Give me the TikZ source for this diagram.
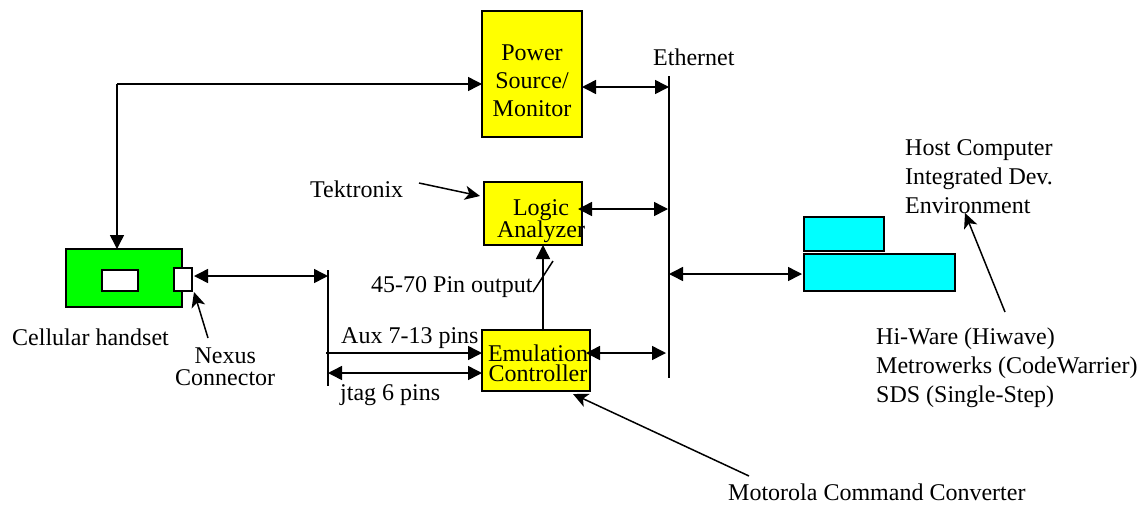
\documentclass[tikz,border=0pt]{standalone}
\usepackage{fontspec}
\setmainfont{Liberation Serif}
\usetikzlibrary{%
  arrows.meta,%
  positioning}
\definecolor{boxyellow}{RGB}{255,255,0}
\definecolor{boxgreen}{RGB}{0,255,0}
\definecolor{boxcyan}{RGB}{0,255,255}

\begin{document}
\begin{tikzpicture}
  [x=1pt,y=-1pt,on grid,
   box/.style={rectangle,draw=black,line width=2pt,inner sep=0pt,outer sep=0pt},
   yellow box/.style={box,fill=boxyellow},
   green box/.style={box,fill=boxgreen},
   cyan box/.style={box,fill=boxcyan},
   white box/.style={box,fill=white},
   caption/.style={inner sep=0pt,anchor=base west,align=left,font=\fontsize{24}{29}\selectfont},
   tight/.style={font=\fontsize{24}{22}\selectfont},
   every label/.style={inner sep=0pt,align=center,font=\fontsize{24}{22}\selectfont},
   bus/.style={line width=2pt},
   link/.style={line width=1.5pt,-{Triangle[length=14pt,width=14pt]}},
   both/.style={line width=1.5pt,{Triangle[length=14pt,width=14pt]}-{Triangle[length=14pt,width=14pt]}},
   leader/.style={line width=1.5pt,-{Stealth[length=15pt,width=14pt,inset=4pt]}}]

  \useasboundingbox (0,0) rectangle (1142,504);

  % Instruments
  \node [yellow box,minimum width=100pt,minimum height=126pt,
         label={[yshift=-7pt,font=\fontsize{24}{28}\selectfont]center:Power\\Source/\\Monitor}]
                        (power)                             at (532,74)    {};
  \node [yellow box,minimum width=98pt,minimum height=63pt,
         label={[xshift=8pt,yshift=-8pt]center:Logic\\Analyzer}]
                        (logic) [below=139.5pt of power,xshift=1pt]        {};
  \node [yellow box,minimum width=108pt,minimum height=61pt,
         label={[xshift=2pt,yshift=-3pt,font=\fontsize{24}{20}\selectfont]center:Emulation\\Controller}]
                        (emu)   [below=147pt of logic,xshift=3pt]          {};

  % Handset
  \node [green box,minimum width=116pt,minimum height=58pt]
                        (handset)                           at (124,278)   {};
  \node [white box,minimum width=36pt,minimum height=21pt]
                        (screen)                            at (120,280.5) {};
  \node [white box,minimum width=18pt,minimum height=23pt]
                        (plug)                              at (183,279.5) {};

  % Host computer
  \node [cyan box,minimum width=80pt,minimum height=34pt]
                        (monitor)                           at (844,234)   {};
  \node [cyan box,minimum width=151pt,minimum height=37pt]
                        (host)                              at (879.5,272.5) {};

  % Captions
  \node [caption] (ethernet)  at (653,65)  {Ethernet};
  \node [caption] (tektronix) at (310,197) {Tektronix};
  \node [caption] (cellular)  at (12,345)  {Cellular handset};
  \node [caption,tight,align=center] (nexus) at (175,385) {Nexus\\Connector};
  \node [caption] (pinout)    at (371,292) {45-70 Pin output};
  \node [caption] (aux)       at (341,343) {Aux 7-13 pins};
  \node [caption] (jtag)      at (340,400) {jtag 6 pins};
  \node [caption] (motorola)  at (728,500) {Motorola Command Converter};
  \node [caption] (ide)       at (905,213) {Host Computer\\Integrated Dev.\\Environment};
  \node [caption] (tools)     at (876,402) {Hi-Ware (Hiwave)\\Metrowerks (CodeWarrier)\\SDS (Single-Step)};

  % Free ends
  \coordinate (ether top) at (669,76);
  \coordinate (ether bot) at (669,378);
  \coordinate (trace top) at (328,270);
  \coordinate (trace bot) at (328,386);
  \coordinate (corner)    at (117,84);
  \coordinate (tap1)      at (669,87);
  \coordinate (tap2)      at (668,209);
  \coordinate (tap3)      at (666,353);
  \coordinate (tap4)      at (669,274);
  \coordinate (trace1)    at (328,276);
  \coordinate (aux in)    at (326,353);
  \coordinate (jtag in)   at (328,373);
  \coordinate (pin out)   at (543,331);
  \coordinate (tick a)    at (533,292);
  \coordinate (tick b)    at (553,261);
  \coordinate (tek from)  at (419,183);
  \coordinate (tek to)    at (480,196);
  \coordinate (mot from)  at (749,476);
  \coordinate (mot to)    at (573,394);
  \coordinate (nex from)  at (208,338);
  \coordinate (nex to)    at (194,292);
  \coordinate (hi from)   at (1005,312);
  \coordinate (hi to)     at (965,213);

  % Connectors
  \draw [bus] (ether top) -- (ether bot);
  \draw [bus] (trace top) -- (trace bot);
  \draw [link] (corner) -- (corner -| power.west);
  \draw [link] (corner) -- (corner |- handset.north);
  \draw [both] (power.east |- tap1) -- (tap1);
  \draw [both] ([xshift=-4pt]logic.east |- tap2) -- (tap2);
  \draw [both] ([xshift=-4pt]emu.east |- tap3) -- (tap3);
  \draw [both] (tap4) -- ([xshift=-2pt]host.west |- tap4);
  \draw [both] ([xshift=2pt]plug.east |- trace1) -- (trace1);
  \draw [link] (aux in) -- (emu.west |- aux in);
  \draw [both] (jtag in) -- (emu.west |- jtag in);
  \draw [link] (pin out) -- (pin out |- logic.south);
  \draw [line width=1.5pt] (tick a) -- (tick b);
  \draw [leader] (tek from) -- (tek to);
  \draw [leader] (mot from) -- (mot to);
  \draw [leader] (nex from) -- (nex to);
  \draw [leader] (hi from) -- (hi to);
\end{tikzpicture}
\end{document}
